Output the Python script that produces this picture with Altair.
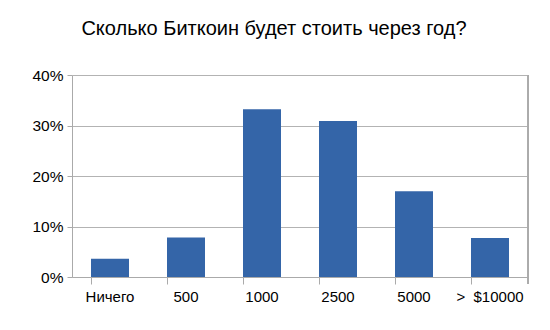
import altair as alt
import pandas as pd

categories = ["Ничего", "500", "1000", "2500", "5000", ">\u00a0\u00a0$10000"]
shares = [0.036, 0.078, 0.332, 0.309, 0.170, 0.077]

df = pd.DataFrame({"cat": categories, "share": shares})

W, H = 456, 202
FONT = "Liberation Sans"

bars = alt.Chart(df).mark_bar(color="#3465a8").encode(
    x=alt.X("cat:N", sort=categories, title=None,
            scale=alt.Scale(paddingInner=0.5, paddingOuter=0.25),
            axis=alt.Axis(labelAngle=0, bandPosition=0, tickSize=7, tickColor="#aaaaaa",
                          domainColor="#aaaaaa", labelFontSize=15, labelFont=FONT,
                          labelColor="#000000", labelPadding=5, grid=False)),
    y=alt.Y("share:Q", title=None,
            scale=alt.Scale(domain=[0, 0.4]),
            axis=alt.Axis(format=".0%", values=[0, 0.1, 0.2, 0.3, 0.4], tickSize=5,
                          tickColor="#aaaaaa", domainColor="#aaaaaa", gridColor="#b3b3b3",
                          labelFontSize=15.5, labelFont=FONT, labelColor="#000000",
                          labelPadding=4)),
)

edge = alt.Chart(df).mark_rule(color="#aaaaaa").encode(
    x=alt.value(W), y=alt.value(0), y2=alt.value(H + 7)
)

chart = alt.layer(bars, edge).properties(
    width=W, height=H,
    title=alt.TitleParams("Сколько Биткоин будет стоить через год?", fontSize=20,
                          font=FONT, fontWeight="normal", color="#000000",
                          anchor="middle", dx=-26, offset=29),
    autosize=alt.AutoSizeParams(type="none"),
    padding={"left": 72, "top": 75, "right": 22, "bottom": 53},
).configure_view(stroke=None)

chart.save("out.html", embed_options={"renderer": "svg", "actions": False})
